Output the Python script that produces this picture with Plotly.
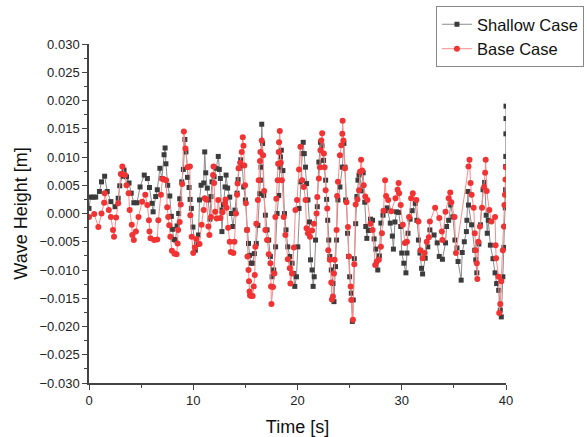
import plotly.graph_objects as go

# Shallow Case: time [s] and wave height [mm]
shallow_t = [0.0, 0.15, 0.4, 0.64, 1.0, 1.2, 1.5, 1.75, 2.1, 2.5, 2.8, 2.95, 3.2, 3.36, 3.6, 3.84, 4.05, 4.3, 4.6, 4.9,
             5.3, 5.6, 5.8, 6.05, 6.15, 6.4, 6.55, 6.8, 7.0, 7.2, 7.3, 7.38, 7.55, 7.75, 7.9, 8.0, 8.15, 8.3, 8.45, 8.6,
             8.7, 8.9, 9.05, 9.2, 9.3, 9.45, 9.6, 9.7, 9.82, 9.97, 10.2, 10.35, 10.5, 10.6, 10.75, 11.0, 11.1, 11.2, 11.35, 11.45,
             11.6, 11.7, 11.8, 12.0, 12.2, 12.4, 12.5, 12.6, 12.7, 12.75, 12.9, 13.05, 13.15, 13.3, 13.5, 13.65, 13.8, 14.0, 14.2, 14.3,
             14.4, 14.55, 14.7, 14.84, 15.0, 15.16, 15.3, 15.4, 15.54, 15.7, 15.86, 16.05, 16.2, 16.37, 16.44, 16.5, 16.57, 16.65, 16.76, 16.92,
             17.08, 17.24, 17.4, 17.56, 17.72, 17.9, 18.04, 18.2, 18.3, 18.36, 18.45, 18.6, 18.75, 18.9, 19.07, 19.26, 19.48, 19.6, 19.74, 19.9,
             20.03, 20.15, 20.28, 20.45, 20.55, 20.65, 20.77, 20.87, 21.0, 21.15, 21.25, 21.4, 21.5, 21.6, 21.73, 21.9, 22.05, 22.2, 22.35, 22.5,
             22.7, 22.8, 22.9, 23.0, 23.1, 23.24, 23.4, 23.5, 23.65, 23.75, 23.88, 24.07, 24.3, 24.45, 24.55, 24.62, 24.8, 24.9, 25.0, 25.16,
             25.26, 25.35, 25.45, 25.58, 25.7, 25.8, 25.9, 26.1, 26.3, 26.45, 26.55, 26.65, 26.8, 27.0, 27.2, 27.35, 27.5, 27.7, 27.85, 28.0,
             28.2, 28.4, 28.6, 28.9, 29.1, 29.2, 29.35, 29.5, 29.7, 29.9, 30.0, 30.2, 30.4, 30.5, 30.6, 30.8, 31.0, 31.3, 31.45, 31.6,
             31.75, 31.9, 32.0, 32.25, 32.5, 32.7, 33.1, 33.4, 33.6, 33.9, 34.2, 34.3, 34.5, 34.7, 34.9, 35.1, 35.3, 35.4, 35.7, 35.8,
             36.0, 36.2, 36.25, 36.35, 36.4, 36.7, 37.0, 37.1, 37.2, 37.4, 37.55, 37.8, 37.95, 38.1, 38.2, 38.3, 38.5, 38.75, 38.95, 39.1,
             39.3, 39.45, 39.55, 39.7, 39.8, 39.9, 39.93, 39.96, 39.97, 39.98, 39.99, 40.0, 40.0]
shallow_mm = [0.9, 2.9, 2.9, 2.9, 3.9, 5.6, 6.6, 3.9, 2.1, 1.2, 2.7, 4.9, 6.6, 7.7, 6.5, 5.4, 3.6, 1.9, 1.9, 4.7,
              6.8, 6.2, 4.6, 1.8, 0.3, 3.0, 4.2, 8.0, 6.2, 10.4, 11.6, 8.8, 5.0, 3.1, -0.5, -2.8, -4.6, -4.7, -2.2, 0.0,
              2.6, 5.6, 7.8, 13.1, 10.9, 6.4, 4.6, 2.5, 0.9, -2.4, -6.5, -5.5, -3.8, 2.4, 5.0, 5.4, 10.9, 7.2, 4.5, 2.4,
              -1.0, 3.0, 5.6, 6.5, 8.0, 10.1, 7.8, 6.2, 0.6, -3.2, 1.5, 4.7, 6.8, 4.5, 2.9, 0.0, -2.3, 0.6, 3.6, 6.0,
              8.0, 9.5, 8.5, 4.7, 2.4, -2.9, -5.3, -7.4, -8.8, -8.8, -7.1, -5.3, -2.1, 3.5, 5.9, 8.2, 15.8, 12.4, 3.2, -0.3,
              -2.9, -4.7, -7.6, -11.2, -10.0, -5.9, 0.0, 3.2, 8.2, 10.0, 11.2, 7.6, 0.0, -2.9, -5.9, -7.6, -8.8, -10.6, -12.9, -11.2,
              -5.9, 0.9, 5.6, 10.6, 12.6, 10.6, 8.2, 5.3, 2.4, -1.5, -8.2, -10.0, -12.9, -11.2, -4.7, 1.2, 9.1, 12.6, 12.0, 9.4,
              5.9, 2.5, -1.2, -4.7, -7.6, -10.0, -12.4, -15.6, -9.4, -4.7, 2.4, 4.7, 8.2, 12.4, 8.2, 2.4, -3.5, -7.6, -11.2, -14.1,
              -19.1, -15.3, -8.0, -1.8, 3.0, 5.9, 6.8, 4.0, 7.2, 2.0, -2.3, -4.4, -3.0, -1.0, -1.2, -4.5, -6.3, -10.0, -7.5, -1.7,
              -0.3, 0.5, 1.0, -1.7, -4.0, -6.3, -1.5, 0.3, 0.2, -2.3, -7.0, -8.8, -10.5, -7.0, -3.5, -1.0, 0.5, 1.8, -1.2, -4.7,
              -7.0, -9.7, -10.7, -7.9, -5.9, -2.9, -3.8, -5.2, -7.6, -8.1, -5.2, -2.3, -1.2, 1.5, -0.6, -4.7, -6.1, -8.5, -11.8, -6.9,
              -5.0, -3.2, -1.2, 3.9, 1.5, -2.0, -6.5, -8.2, -10.5, -5.4, -2.0, 4.2, 5.5, -0.3, -3.5, -1.2, -5.6, -8.0, -10.5, -12.4,
              -13.6, -17.1, -18.3, -11.2, -6.0, -2.3, 1.0, 4.2, 8.3, 10.1, 14.1, 16.8, 19.0]

# Base Case: time [s] and wave height [mm]
base_t = [0.0, 0.5, 0.9, 1.2, 1.45, 1.5, 1.9, 2.1, 2.3, 2.4, 2.6, 2.8, 3.05, 3.2, 3.45, 3.6, 3.8, 3.9, 4.1, 4.15,
          4.3, 4.5, 4.75, 5.1, 5.4, 5.6, 5.75, 5.8, 5.9, 6.25, 6.55, 6.65, 6.9, 7.05, 7.2, 7.4, 7.5, 7.6, 7.7, 7.8,
          7.95, 8.2, 8.4, 8.5, 8.55, 8.7, 8.8, 8.94, 9.1, 9.25, 9.45, 9.68, 9.72, 9.85, 10.0, 10.15, 10.3, 10.6, 10.8, 11.0,
          11.1, 11.25, 11.45, 11.55, 11.7, 11.9, 11.95, 12.0, 12.1, 12.25, 12.4, 12.6, 12.8, 13.05, 13.1, 13.2, 13.35, 13.5, 13.6, 13.85,
          13.95, 14.1, 14.2, 14.25, 14.35, 14.5, 14.65, 14.75, 14.82, 14.9, 14.97, 15.05, 15.15, 15.2, 15.3, 15.35, 15.4, 15.45, 15.6, 15.7,
          15.8, 15.9, 15.96, 16.05, 16.2, 16.28, 16.4, 16.44, 16.57, 16.7, 16.8, 16.92, 17.08, 17.24, 17.4, 17.46, 17.5, 17.65, 17.78, 17.88,
          17.97, 18.1, 18.14, 18.2, 18.23, 18.3, 18.4, 18.5, 18.68, 18.84, 19.07, 19.26, 19.32, 19.48, 19.65, 19.8, 19.96, 20.15, 20.28, 20.45,
          20.6, 20.77, 20.87, 21.0, 21.2, 21.4, 21.57, 21.83, 21.9, 22.05, 22.15, 22.2, 22.28, 22.37, 22.53, 22.6, 22.7, 22.85, 22.95, 23.1,
          23.24, 23.3, 23.4, 23.5, 23.56, 23.75, 23.8, 23.88, 24.07, 24.2, 24.3, 24.33, 24.4, 24.55, 24.7, 24.84, 24.94, 25.1, 25.16, 25.32,
          25.45, 25.58, 25.75, 25.9, 26.0, 26.1, 26.2, 26.35, 26.5, 26.7, 27.0, 27.2, 27.45, 27.6, 27.8, 28.0, 28.1, 28.25, 28.4, 28.5,
          28.7, 29.0, 29.4, 29.6, 29.7, 29.75, 29.9, 30.1, 30.3, 30.5, 30.7, 30.9, 31.06, 31.4, 31.6, 31.8, 32.0, 32.2, 32.4, 32.6,
          32.7, 33.2, 33.6, 33.85, 33.9, 34.2, 34.5, 34.65, 34.75, 35.06, 35.2, 36.4, 36.5, 36.6, 36.7, 36.9, 37.0, 37.1, 37.2, 37.25,
          37.35, 37.5, 37.7, 37.9, 38.0, 38.05, 38.15, 38.4, 38.6, 38.95, 39.0, 39.05, 39.3, 39.35, 39.45, 39.55, 39.7, 39.8, 39.85, 39.9,
          39.95, 40.0]
base_mm = [-0.6, -0.1, -2.4, 0.0, 1.9, 3.6, 0.6, -0.6, -2.9, -4.1, -0.7, 1.8, 7.0, 8.3, 6.8, 5.0, 3.6, 0.6, -2.0, -3.8,
           -4.7, -3.2, -0.6, 2.1, 3.3, 1.5, -1.2, -3.2, -4.4, -4.7, -4.6, -1.2, 3.3, 6.1, 6.0, 5.9, 1.1, -0.6, -2.1, -4.1,
           -6.6, -7.1, -7.2, -5.3, -2.9, -1.5, 1.6, 5.2, 14.5, 11.5, 8.2, 8.3, -0.3, -4.1, -7.0, -6.0, -4.5, -5.4, -2.0, 0.6,
           2.7, 2.5, -2.3, -3.8, -0.6, 6.8, 8.3, 5.4, 0.3, -0.9, 2.4, -0.8, 0.2, 1.8, 2.5, 1.0, -2.5, -5.0, -6.8, -7.0,
           -5.0, 0.0, 3.3, 5.3, 8.0, 9.0, 10.9, 13.5, 12.0, 8.5, 5.0, 1.8, -2.9, -7.6, -10.0, -12.0, -13.8, -14.5, -14.6, -14.6,
           -12.9, -10.9, -5.9, -1.8, 2.4, 5.9, 9.3, 10.9, 12.9, 10.3, 4.0, -2.9, -4.7, -7.2, -8.8, -12.9, -16.0, -13.0, -10.6, -0.6,
           2.6, 5.9, 8.8, 10.9, 12.6, 14.6, 9.0, 5.9, -0.6, -3.8, -8.1, -9.7, -12.4, -10.6, -6.0, 0.6, 2.4, 7.8, 11.8, 5.9,
           4.7, 2.4, -2.6, -3.5, -4.1, -3.0, -1.8, 0.0, 2.9, 6.2, 8.2, 11.2, 12.9, 14.2, 10.6, 8.2, 4.1, 0.9, -6.5, -8.2,
           -12.2, -15.2, -14.7, -10.6, -8.2, -2.9, 3.1, 5.6, 10.3, 12.1, 14.1, 16.4, 12.9, 8.0, 2.0, -2.4, -7.6, -12.9, -15.3, -18.8,
           -9.0, 1.6, 2.5, 4.1, 7.4, 9.5, 7.6, 5.0, 3.0, 2.4, -1.8, -2.9, -9.1, -8.5, -8.2, -5.9, -3.5, 0.5, 5.9, 3.1,
           2.4, 0.4, 2.7, 4.2, 5.4, 3.6, 1.5, -2.0, -5.2, -5.0, -0.6, 2.7, 3.6, 2.4, -1.4, -6.5, -7.9, -7.0, -5.0, -4.2,
           -1.4, 1.0, -0.8, -3.2, -4.7, 0.3, 2.7, 3.7, 2.0, -0.6, -7.0, 8.3, 9.5, 5.4, 3.3, 1.0, -3.5, -6.5, -8.8, -11.6,
           -5.0, -2.3, 1.0, 4.7, 7.2, 9.5, 4.0, 0.6, -1.4, -0.6, -5.6, -7.9, -11.2, -17.6, -16.0, -12.0, -6.5, -2.3, 1.5, 3.3,
           6.0, 8.2]

x_ticks = [0, 10, 20, 30, 40]
y_ticks = [-0.030, -0.025, -0.020, -0.015, -0.010, -0.005, 0.0, 0.005, 0.010, 0.015, 0.020, 0.025, 0.030]

FONT = "Arial, 'Liberation Sans', sans-serif"

fig = go.Figure()
fig.add_trace(go.Scatter(
    x=shallow_t, y=[v / 1000 for v in shallow_mm], name="Shallow Case",
    mode="lines+markers",
    line=dict(color="#8c8c8c", width=1),
    marker=dict(symbol="square", size=5, color="#3c3c3c"),
))
fig.add_trace(go.Scatter(
    x=base_t, y=[v / 1000 for v in base_mm], name="Base Case",
    mode="lines+markers",
    line=dict(color="#ff8a8a", width=1),
    marker=dict(symbol="circle", size=6, color="#f23333"),
))

axis_common = dict(
    showgrid=False, zeroline=False, showline=True, linecolor="#444444", linewidth=1.5,
    ticks="outside", ticklen=5, tickwidth=1, tickcolor="#444444",
    tickfont=dict(family=FONT, size=13, color="#222222"),
)

fig.update_layout(
    width=587, height=437,
    margin=dict(l=89, r=81, t=44, b=54, autoexpand=False),
    paper_bgcolor="white", plot_bgcolor="white",
    font=dict(family=FONT, color="#111111"),
    xaxis=dict(range=[0, 40], tickvals=x_ticks, ticktext=[str(v) for v in x_ticks],
               minor=dict(dtick=5, ticks="outside", ticklen=3, tickcolor="#444444"),
               title=dict(text="Time [s]", font=dict(family=FONT, size=18), standoff=13),
               **axis_common),
    yaxis=dict(range=[-0.030, 0.030], tickvals=y_ticks, tickformat=".3f",
               minor=dict(dtick=0.0025, tick0=0, ticks="outside", ticklen=3, tickcolor="#444444"),
               title=dict(text="Wave Height [m]", font=dict(family=FONT, size=18), standoff=7),
               **axis_common),
    legend=dict(x=0.832, y=1.112, xanchor="left", yanchor="top",
                bordercolor="#888888", borderwidth=1, bgcolor="white",
                font=dict(family=FONT, size=16.5, color="#111111"),
                tracegroupgap=0),
    showlegend=True,
)

fig.write_html("out.html")
